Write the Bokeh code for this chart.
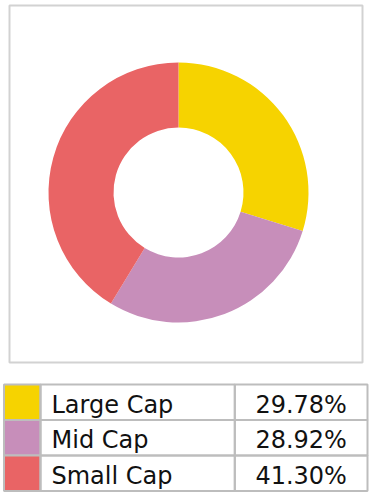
import math
from bokeh.plotting import figure
from bokeh.models import Range1d, ColumnDataSource
from bokeh.embed import file_html
from bokeh.resources import INLINE
from bokeh.core.properties import value

categories = ["Large Cap", "Mid Cap", "Small Cap"]
values = [29.78, 28.92, 41.30]
colors = ["#F6D300", "#C78EBA", "#E96465"]

W, H = 372, 497
p = figure(width=W, height=H, x_range=Range1d(0, W), y_range=Range1d(0, H),
           x_axis_type=None, y_axis_type=None, output_backend="svg",
           toolbar_location=None, min_border=0)
p.grid.visible = False
p.outline_line_color = None
p.background_fill_color = "white"
p.border_fill_color = "white"

# outer box around the donut
p.quad(left=9, right=362, top=H - 5, bottom=H - 362, fill_color=None,
       line_color="#d2d2d2", line_width=2)

# donut
total = sum(values)
starts, ends = [], []
cum = 0.0
for v in values:
    starts.append(math.pi / 2 - 2 * math.pi * cum / total)
    cum += v
    ends.append(math.pi / 2 - 2 * math.pi * cum / total)
src = ColumnDataSource(dict(cat=categories, val=values, color=colors,
                            start=starts, end=ends))
p.annular_wedge(x=178, y=H - 192, inner_radius=65, outer_radius=130,
                start_angle="start", end_angle="end", direction="clock",
                fill_color="color", line_color=None, source=src)

# table
row_h = 35.5
table_top = 384
col_x = [3.5, 40, 234.3, 367]
tops = [H - (table_top + i * row_h) for i in range(len(categories))]
bottoms = [t - row_h for t in tops]
grey = "#bdbdbd"
tsrc = ColumnDataSource(dict(
    top=tops, bottom=bottoms, color=colors,
    label=categories, txt=[f"{v:.2f}%" for v in values],
    mid=[t - row_h / 2 - 2.5 for t in tops],
))
p.quad(left=col_x[0], right=col_x[1], top="top", bottom="bottom",
       fill_color="color", line_color=grey, line_width=2, source=tsrc)
p.quad(left=col_x[1], right=col_x[2], top="top", bottom="bottom",
       fill_color=None, line_color=grey, line_width=2, source=tsrc)
p.quad(left=col_x[2], right=col_x[3], top="top", bottom="bottom",
       fill_color=None, line_color=grey, line_width=2, source=tsrc)

p.text(x=col_x[1] + 11, y="mid", text="label", source=tsrc,
       text_font=value("DejaVu Sans"), text_font_size="24px",
       text_color="#111111", text_baseline="middle", text_align="left")
p.text(x=(col_x[2] + col_x[3]) / 2, y="mid", text="txt", source=tsrc,
       text_font=value("DejaVu Sans"), text_font_size="24px",
       text_color="#111111", text_baseline="middle", text_align="center")

open("out.html", "w").write(file_html(p, INLINE))
